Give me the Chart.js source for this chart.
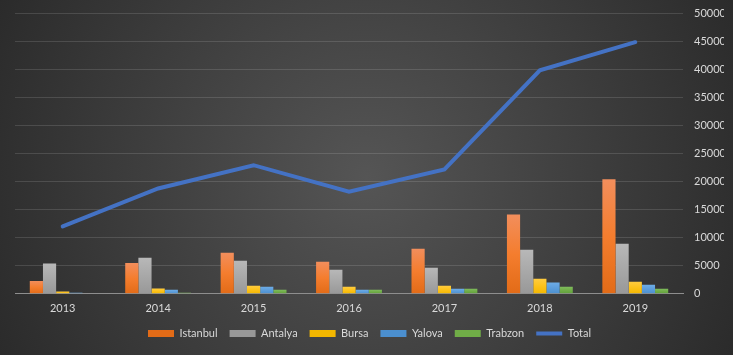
<!DOCTYPE html>
<html>
<head>
<meta charset="utf-8">
<script src="https://cdn.jsdelivr.net/npm/chart.js@4/dist/chart.umd.min.js"></script>
<style>
  html, body { margin: 0; padding: 0; background: #333; }
  #wrap { width: 733px; height: 355px; position: relative; }
  canvas { display: block; }
</style>
</head>
<body>
<div id="wrap"><canvas id="c" width="733" height="355"></canvas></div>
<script>
const years = ['2013', '2014', '2015', '2016', '2017', '2018', '2019'];
const istanbul = [2300, 5500, 7300, 5700, 8000, 14100, 20400];
const antalya  = [5400, 6400, 5900, 4300, 4650, 7850, 8900];
const bursa    = [400, 950, 1450, 1250, 1450, 2700, 2150];
const yalova   = [200, 700, 1250, 700, 900, 2000, 1600];
const trabzon  = [100, 200, 700, 700, 900, 1250, 900];
const total    = [12000, 18750, 22900, 18200, 22150, 39800, 44800];
const yTicks   = [0, 5000, 10000, 15000, 20000, 25000, 30000, 35000, 40000, 45000, 50000];

function grad(top, mid, bottom) {
  return function (ctx) {
    if (ctx.type !== 'data') return bottom;
    const chart = ctx.chart;
    if (!chart.chartArea || !chart.scales.y) return mid;
    const y = chart.scales.y.getPixelForValue(ctx.raw);
    const y0 = chart.scales.y.getPixelForValue(0);
    if (!isFinite(y) || !isFinite(y0) || y0 - y < 1) return mid;
    const g = chart.ctx.createLinearGradient(0, y, 0, y0);
    g.addColorStop(0, top);
    g.addColorStop(0.5, mid);
    g.addColorStop(1, bottom);
    return g;
  };
}

const bgPlugin = {
  id: 'bg',
  beforeDraw(chart) {
    const c = chart.ctx;
    const w = chart.width, h = chart.height;
    c.save();
    const g = c.createRadialGradient(w * 0.5, h * 0.5, 0, w * 0.5, h * 0.5, w * 0.62);
    g.addColorStop(0, '#555555');
    g.addColorStop(1, '#262626');
    c.fillStyle = g;
    c.fillRect(0, 0, w, h);
    c.restore();
  }
};

const barCommon = { categoryPercentage: 0.69, barPercentage: 1.0, borderWidth: 0, pointStyle: 'rect', order: 2 };

new Chart(document.getElementById('c'), {
  type: 'bar',
  data: {
    labels: years,
    datasets: [
      Object.assign({ label: 'Istanbul', data: istanbul, backgroundColor: grad('#F28E5C', '#F47D2E', '#E26B17') }, barCommon),
      Object.assign({ label: 'Antalya', data: antalya, backgroundColor: grad('#B8B8B8', '#A8A8A8', '#989898') }, barCommon),
      Object.assign({ label: 'Bursa', data: bursa, backgroundColor: grad('#FFCC40', '#FDC21A', '#F3B700') }, barCommon),
      Object.assign({ label: 'Yalova', data: yalova, backgroundColor: grad('#6DACE6', '#5C9DDB', '#4B8FCF') }, barCommon),
      Object.assign({ label: 'Trabzon', data: trabzon, backgroundColor: grad('#80BC5E', '#70AD47', '#5FA03B') }, barCommon),
      {
        type: 'line', label: 'Total', data: total,
        borderColor: '#4472C4', backgroundColor: '#4472C4',
        borderWidth: 4, pointRadius: 0, pointHoverRadius: 0,
        pointStyle: 'line', tension: 0, order: 1, borderCapStyle: 'round'
      }
    ]
  },
  options: {
    responsive: false,
    animation: false,
    devicePixelRatio: 1,
    layout: { padding: { left: 15, right: 9, top: 13, bottom: 6 } },
    plugins: {
      legend: {
        position: 'bottom',
        labels: {
          color: '#D9D9D9',
          font: { family: 'Lato', size: 11 },
          usePointStyle: true,
          pointStyleWidth: 26,
          boxHeight: 7,
          padding: 12,
          sort: (a, b) => a.datasetIndex - b.datasetIndex
        }
      },
      tooltip: { enabled: false }
    },
    scales: {
      x: {
        grid: { display: false, drawTicks: false },
        border: { display: true, color: '#8E8E8E', width: 1 },
        ticks: { color: '#D9D9D9', font: { family: 'Lato', size: 11 }, padding: 8 },
        afterFit(scale) { scale.height -= 7; }
      },
      y: {
        position: 'right',
        min: 0, max: 50000,
        afterBuildTicks(scale) { scale.ticks = yTicks.map(v => ({ value: v })); },
        grid: { color: 'rgba(255,255,255,0.13)', drawTicks: false, lineWidth: 1 },
        border: { display: false },
        ticks: { color: '#D9D9D9', font: { family: 'Lato', size: 11 }, padding: 11, callback: v => String(v) },
        afterFit(scale) { scale.width = 41; scale.paddingTop = 0; scale.paddingBottom = 0; }
      }
    }
  },
  plugins: [bgPlugin]
});
</script>
</body>
</html>
